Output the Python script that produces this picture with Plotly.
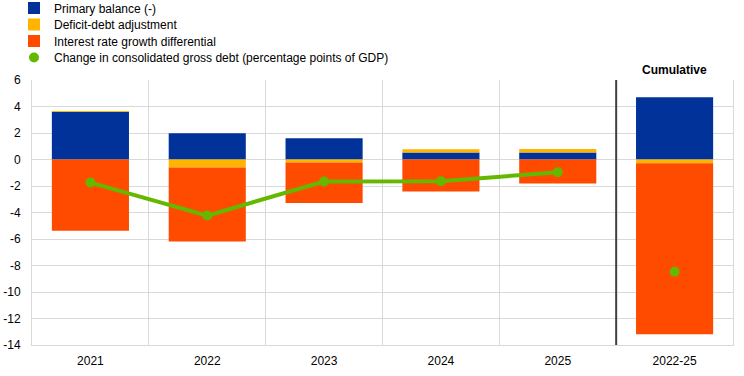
import plotly.graph_objects as go

categories = ["2021", "2022", "2023", "2024", "2025", "2022-25"]
primary_balance = [3.61, 1.98, 1.60, 0.52, 0.52, 4.69]
deficit_debt_adj = [0.03, -0.61, -0.23, 0.26, 0.28, -0.28]
interest_growth_diff = [-5.38, -5.58, -3.06, -2.42, -1.82, -12.91]
change_in_debt = [-1.74, -4.23, -1.66, -1.64, -0.96, -8.47]

y_tickvals = [6, 4, 2, 0, -2, -4, -6, -8, -10, -12, -14]
y_ticktext = ["6", "4", "2", "0", "-2", "-4", "-6", "-8", "-10", "-12", "-14"]

BLUE = "#003299"
YELLOW = "#FFB400"
ORANGE = "#FF4B00"
GREEN = "#65B800"
FONT = "Arial, Liberation Sans, sans-serif"

W, H = 744, 376

fig = go.Figure()
fig.add_trace(go.Bar(x=categories, y=primary_balance, name="Primary balance (-)",
                     marker=dict(color=BLUE, line=dict(width=0)), legend="legend"))
fig.add_trace(go.Bar(x=categories, y=deficit_debt_adj, name="Deficit-debt adjustment",
                     marker=dict(color=YELLOW, line=dict(width=0)), legend="legend2"))
fig.add_trace(go.Bar(x=categories, y=interest_growth_diff, name="Interest rate growth differential",
                     marker=dict(color=ORANGE, line=dict(width=0)), legend="legend3"))
fig.add_trace(go.Scatter(x=categories[:5], y=change_in_debt[:5], mode="lines+markers",
                         line=dict(color=GREEN, width=4), marker=dict(color=GREEN, size=10),
                         showlegend=False, name="Change in consolidated gross debt (percentage points of GDP)"))
fig.add_trace(go.Scatter(x=categories[5:], y=change_in_debt[5:], mode="markers",
                         marker=dict(color=GREEN, size=10),
                         name="Change in consolidated gross debt (percentage points of GDP)",
                         legend="legend4"))

legend_rows_px = [8, 24.5, 41, 57.5]
legend_common = dict(xref="container", yref="container", x=14 / W, xanchor="left", yanchor="middle",
                     bgcolor="rgba(0,0,0,0)", borderwidth=0, font=dict(family=FONT, size=12, color="#000000"),
                     itemwidth=30)
layout_legends = {}
for i, ypx in enumerate(legend_rows_px):
    key = "legend" if i == 0 else f"legend{i+1}"
    d = dict(legend_common)
    d["y"] = 1 - ypx / H
    layout_legends[key] = d

fig.update_layout(
    width=W, height=H,
    margin=dict(l=32, r=11, t=80, b=31, autoexpand=False),
    barmode="relative",
    bargap=0.34,
    plot_bgcolor="white", paper_bgcolor="white",
    font=dict(family=FONT, size=12, color="#000000"),
    showlegend=True,
    **layout_legends,
    xaxis=dict(type="category", tickson="boundaries", showgrid=True, gridcolor="#d9d9d9", gridwidth=1,
               showline=True, linecolor="#d9d9d9", linewidth=1, ticks="", ticklabelstandoff=5,
               tickfont=dict(size=12),
               tickangle=0, zeroline=False, fixedrange=True, automargin=False),
    yaxis=dict(range=[-14, 6], tickvals=y_tickvals, ticktext=y_ticktext, showgrid=True,
               gridcolor="#d9d9d9", gridwidth=1, showline=True, mirror=True, linecolor="#d9d9d9",
               linewidth=1, zeroline=True, zerolinecolor="#d9d9d9", zerolinewidth=1,
               ticks="outside", ticklen=8, tickcolor="rgba(0,0,0,0)", tickfont=dict(size=12),
               fixedrange=True, automargin=False),
    shapes=[dict(type="line", xref="x", yref="paper", x0=4.5, x1=4.5, y0=0, y1=1,
                 line=dict(color="#404040", width=2))],
    annotations=[dict(text="<b>Cumulative</b>", xref="x", yref="paper", x=categories[5], y=1,
                      yanchor="bottom", yshift=1, showarrow=False, font=dict(family=FONT, size=12, color="#000000"))],
)

fig.write_html("out.html", config={"displayModeBar": False},
               post_script="document.body.style.margin='0';document.body.style.padding='0';document.body.style.overflow='hidden';")
